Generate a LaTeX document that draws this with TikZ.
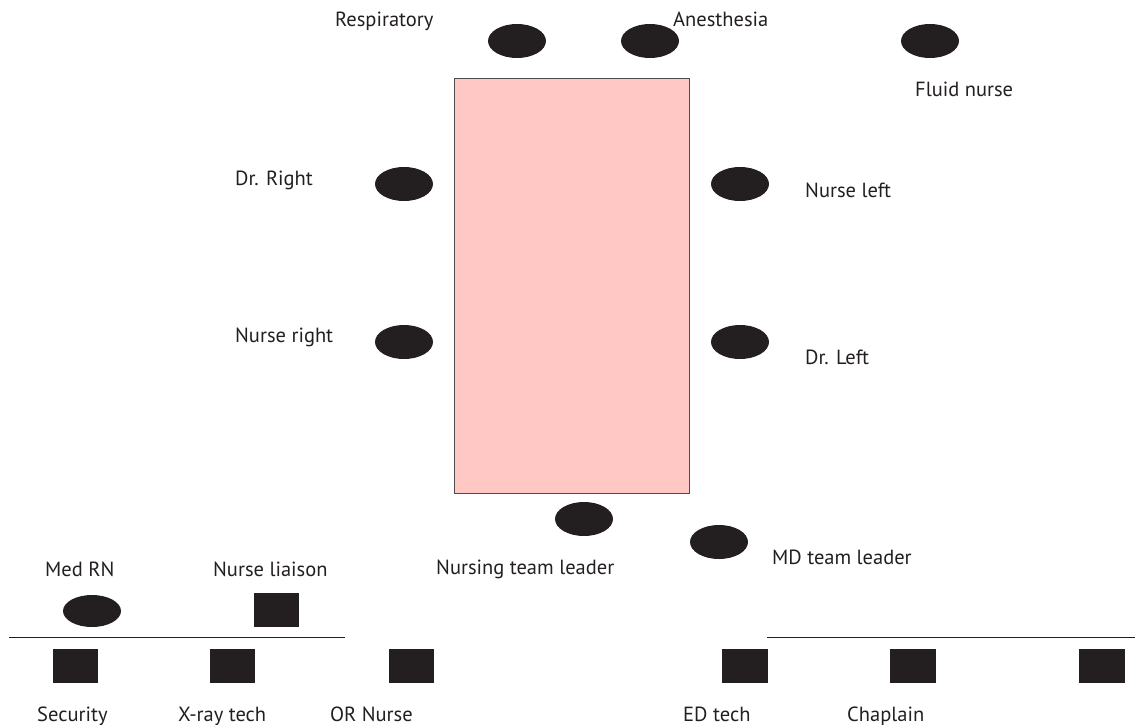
\documentclass[tikz,border=0pt]{standalone}
\usepackage{fontspec}
\setmainfont{PT Sans}
\usetikzlibrary{shapes.geometric}
\definecolor{ink}{HTML}{231F20}
\definecolor{bed}{HTML}{FFC8C5}
\begin{document}
\begin{tikzpicture}[x=1pt,y=-1pt,
  person/.style={ellipse,fill=ink,minimum width=58pt,minimum height=34pt,inner sep=0pt},
  helper/.style={rectangle,fill=ink,minimum width=45pt,minimum height=34pt,inner sep=0pt},
  lbl/.style={anchor=base west,inner sep=0pt,text=ink,font=\fontsize{20.5}{24}\selectfont}]
\useasboundingbox (0,0) rectangle (1135,725);
% bed
\node[draw=ink!80,line width=1pt,fill=bed,minimum width=235pt,minimum height=414pt,inner sep=0pt] (bedrect) at (571.5,286) {};
% people around the bed
\node[person] (resp) at (517,41) {};
\node[person] (anes) at (650,41) {};
\node[person] (fluid) at (930,41) {};
\node[person] (drright) at (404,184) {};
\node[person] (nurseright) at (404,342) {};
\node[person] (nurseleft) at (740,184) {};
\node[person] (drleft) at (740,342) {};
\node[person] (ntl) at (584,519) {};
\node[person] (mdtl) at (719,542) {};
\node[person,minimum height=32pt] (medrn) at (92,611) {};
\node[helper] (liaison) at (276,610) {};
% lower row
\node[helper] (security) at (75,666) {};
\node[helper] (xray) at (232,666) {};
\node[helper] (ornurse) at (411,666) {};
\node[helper,minimum width=46pt] (edtech) at (744.5,666) {};
\node[helper,minimum width=46pt] (chaplain) at (912.5,666) {};
\node[helper,minimum width=46pt] (extra) at (1101.5,666) {};
% lines
\coordinate (l1a) at (9,637);
\coordinate (l1b) at (345,637);
\coordinate (l2a) at (767,637);
\coordinate (l2b) at (1135,637);
\draw[ink,line width=1pt] (l1a) -- (l1b);
\draw[ink,line width=1pt] (l2a) -- (l2b);
% labels
\node[lbl] (tresp) at (335,27) {Respiratory};
\node[lbl] (tanes) at (673,27) {Anesthesia};
\node[lbl] (tfluid) at (915,96) {Fluid nurse};
\node[lbl] (tdrright) at (235,185) {Dr. Right};
\node[lbl] (tnurseleft) at (805,197) {Nurse left};
\node[lbl] (tnurseright) at (235,342) {Nurse right};
\node[lbl] (tdrleft) at (805,364) {Dr. Left};
\node[lbl] (tntl) at (436,574) {Nursing team leader};
\node[lbl] (tmdtl) at (772,564) {MD team leader};
\node[lbl] (tmedrn) at (45,576) {Med RN};
\node[lbl] (tliaison) at (213,576) {Nurse liaison};
\node[lbl] (tsecurity) at (37,721) {Security};
\node[lbl] (txray) at (178,721) {X-ray tech};
\node[lbl] (tornurse) at (330,721) {OR Nurse};
\node[lbl] (tedtech) at (683,721) {ED tech};
\node[lbl] (tchaplain) at (847,721) {Chaplain};
\end{tikzpicture}
\end{document}
